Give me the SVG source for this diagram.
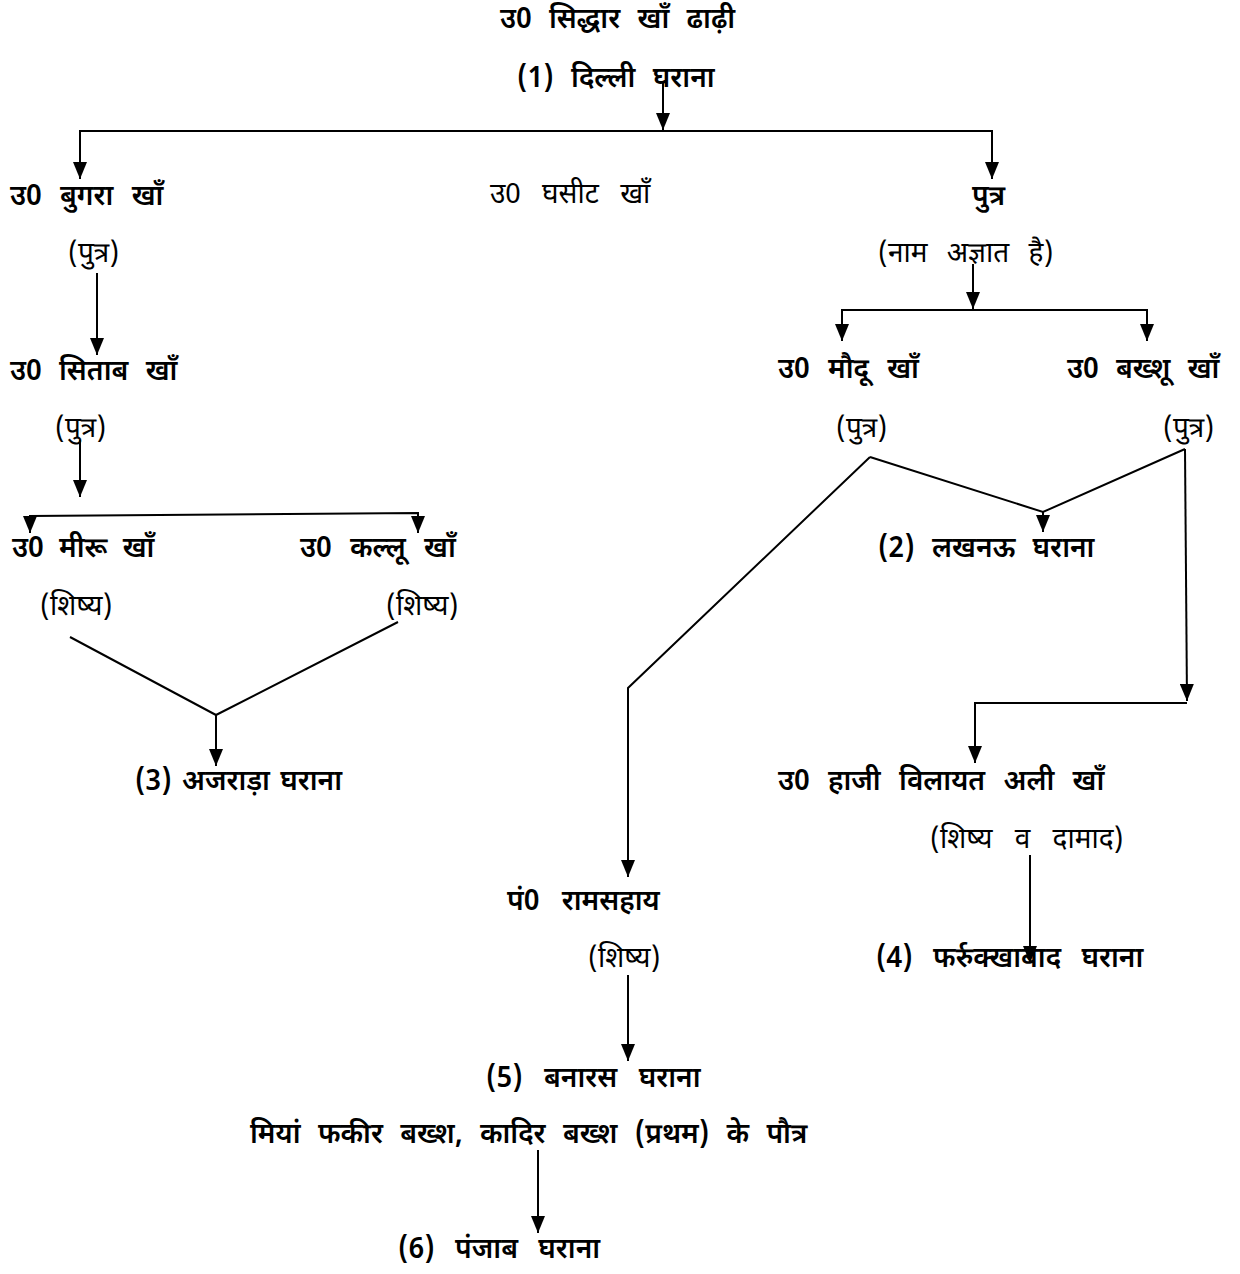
<svg xmlns="http://www.w3.org/2000/svg" width="1240" height="1274" viewBox="0 0 1240 1274">
  <style>
    text { font-family: "Noto Sans Devanagari", "Noto Sans", "Lohit Devanagari", sans-serif; font-size: 28px; word-spacing: 10px; fill: #000; }
    .b { font-weight: 600; }
    .r { font-weight: 400; }
    .c { fill: none; stroke: #000; stroke-width: 2; }
  </style>
  <defs>
    <marker id="ah" markerUnits="userSpaceOnUse" markerWidth="18" markerHeight="14" refX="17" refY="7" orient="auto-start-reverse">
      <path d="M0,0 L17,7 L0,14 z" fill="#000"/>
    </marker>
  </defs>
  <rect width="1240" height="1274" fill="#fff"/>

  <g id="connectors">
    <path class="c" d="M663,83 V130" marker-end="url(#ah)"/>
    <path class="c" d="M80,179 V131 H992 V179" marker-start="url(#ah)" marker-end="url(#ah)"/>
    <path class="c" d="M97,273 V355" marker-end="url(#ah)"/>
    <path class="c" d="M80,440 V497" marker-end="url(#ah)"/>
    <path class="c" d="M30,533 V516 L418,513 V533" marker-start="url(#ah)" marker-end="url(#ah)"/>
    <path class="c" d="M70,637 L216,715 L398,622"/>
    <path class="c" d="M216,715 V766" marker-end="url(#ah)"/>
    <path class="c" d="M973,264 V309" marker-end="url(#ah)"/>
    <path class="c" d="M842,341 V310 H1147 V341" marker-start="url(#ah)" marker-end="url(#ah)"/>
    <path class="c" d="M870,457 L1043,512 L1185,449"/>
    <path class="c" d="M1043,512 V532" marker-end="url(#ah)"/>
    <path class="c" d="M870,457 L628,688 V877" marker-end="url(#ah)"/>
    <path class="c" d="M1185,449 L1187,701" marker-end="url(#ah)"/>
    <path class="c" d="M1187,703 H975 V763" marker-end="url(#ah)"/>
    <path class="c" d="M1030,855 V963" marker-end="url(#ah)"/>
    <path class="c" d="M628,975 V1061" marker-end="url(#ah)"/>
    <path class="c" d="M538,1150 V1233" marker-end="url(#ah)"/>
  </g>

  <g id="n-siddhar"><text class="b" x="500" y="28">उ0 सिद्धार खाँ ढाढ़ी</text></g>
  <g id="n-delhi"><text class="b" x="517" y="87">(1) दिल्ली घराना</text></g>
  <g id="n-bugra"><text class="b" x="10" y="205" style="word-spacing:11px">उ0 बुगरा खाँ</text></g>
  <g id="n-ghasit"><text class="r" x="490" y="203" style="word-spacing:14px">उ0 घसीट खाँ</text></g>
  <g id="n-putra"><text class="b" x="972" y="205">पुत्र</text></g>
  <g id="n-bugra-rel"><text class="r" x="68" y="262">(पुत्र)</text></g>
  <g id="n-putra-rel"><text class="r" x="878" y="262" style="word-spacing:12px">(नाम अज्ञात है)</text></g>
  <g id="n-sitab"><text class="b" x="10" y="380">उ0 सिताब खाँ</text></g>
  <g id="n-sitab-rel"><text class="r" x="55" y="437">(पुत्र)</text></g>
  <g id="n-miru"><text class="b" x="12" y="557" style="word-spacing:8px">उ0 मीरू खाँ</text></g>
  <g id="n-kallu"><text class="b" x="300" y="557" style="word-spacing:11px">उ0 कल्लू खाँ</text></g>
  <g id="n-miru-rel"><text class="r" x="40" y="615">(शिष्य)</text></g>
  <g id="n-kallu-rel"><text class="r" x="386" y="615">(शिष्य)</text></g>
  <g id="n-ajrada"><text class="b" x="135" y="790" style="word-spacing:3px">(3) अजराड़ा घराना</text></g>
  <g id="n-modu"><text class="b" x="778" y="378" style="word-spacing:11px">उ0 मौदू खाँ</text></g>
  <g id="n-bakhshu"><text class="b" x="1067" y="378">उ0 बख्शू खाँ</text></g>
  <g id="n-modu-rel"><text class="r" x="836" y="437">(पुत्र)</text></g>
  <g id="n-bakhshu-rel"><text class="r" x="1163" y="437">(पुत्र)</text></g>
  <g id="n-lucknow"><text class="b" x="878" y="557">(2) लखनऊ घराना</text></g>
  <g id="n-haji"><text class="b" x="778" y="790" style="word-spacing:11px">उ0 हाजी विलायत अली खाँ</text></g>
  <g id="n-haji-rel"><text class="r" x="930" y="848" style="word-spacing:15px">(शिष्य व दामाद)</text></g>
  <g id="n-farrukhabad"><text class="b" x="876" y="967" style="word-spacing:13px">(4) फर्रुक्खाबाद घराना</text></g>
  <g id="n-ramsahay"><text class="b" x="507" y="910" style="word-spacing:15px">पं0 रामसहाय</text></g>
  <g id="n-ramsahay-rel"><text class="r" x="588" y="967">(शिष्य)</text></g>
  <g id="n-banaras"><text class="b" x="486" y="1087" style="word-spacing:14px">(5) बनारस घराना</text></g>
  <g id="n-fakir"><text class="b" x="250" y="1143">मियां फकीर बख्श, कादिर बख्श (प्रथम) के पौत्र</text></g>
  <g id="n-punjab"><text class="b" x="398" y="1258" style="word-spacing:13px">(6) पंजाब घराना</text></g>
</svg>
